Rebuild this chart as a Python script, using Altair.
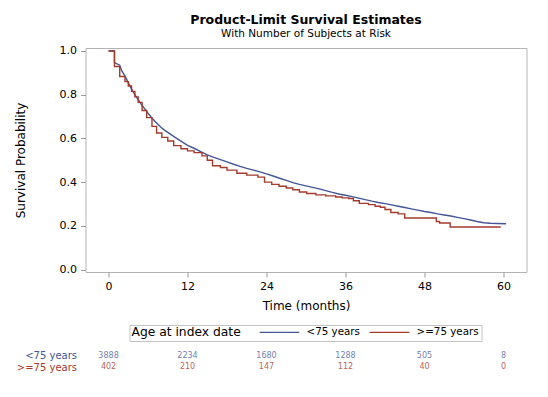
import altair as alt
import pandas as pd

groups = ["<75 years", ">=75 years"]
line_colors = ["#445694", "#A23A2E"]
num_colors = ["#7480b0", "#b8665c"]

time_lt75 = [0, 0.9, 0.9, 1.7, 2.0, 2.5, 3.0, 3.5, 4.0, 4.5, 5.0, 5.5, 6.0, 6.5, 7.0, 7.5, 8.0, 8.5, 9.0,
             10, 11, 12, 13, 14, 15, 16, 17, 18, 19, 20, 21, 22, 23, 24, 25, 26, 27, 28, 29, 30,
             31, 32, 33, 34, 35, 36, 37, 38, 39, 40, 41, 42, 43, 44, 45, 46, 47, 48, 49, 50,
             51, 52, 53, 54, 55, 56, 57, 58, 59, 60.4]
surv_lt75 = [1.0, 1.0, 0.947, 0.935, 0.91, 0.885, 0.855, 0.825, 0.80, 0.777, 0.755, 0.735, 0.715, 0.697,
             0.68, 0.665, 0.65, 0.638, 0.628, 0.607, 0.588, 0.568, 0.555, 0.54, 0.525, 0.513,
             0.503, 0.493, 0.482, 0.472, 0.463, 0.455, 0.447, 0.438, 0.428, 0.418, 0.408, 0.398,
             0.39, 0.383, 0.376, 0.369, 0.361, 0.353, 0.346, 0.34, 0.334, 0.327, 0.32, 0.313,
             0.307, 0.302, 0.296, 0.29, 0.284, 0.278, 0.272, 0.266, 0.261, 0.255, 0.25, 0.245,
             0.239, 0.233, 0.227, 0.22, 0.214, 0.212, 0.211, 0.21]

time_ge75 = [0, 0.9, 1.7, 2.5, 3.0, 3.5, 4.0, 4.5, 5.1, 5.8, 6.6, 7.3, 8.1, 9.0, 9.9, 11.0, 12.0, 13.0, 14.2,
             15.0, 15.8, 17.0, 18.0, 19.5, 21.0, 22.7, 23.7, 24.8, 25.9, 27.0, 28.0, 29.0, 30.1,
             31.5, 33.0, 34.5, 35.5, 36.5, 37.2, 38.1, 39.5, 40.5, 41.3, 42.0, 42.9, 44.0, 45.0,
             49.8, 50.3, 51.9, 59.6]
surv_ge75 = [1.0, 0.929, 0.883, 0.86, 0.84, 0.815, 0.79, 0.765, 0.728, 0.695, 0.655, 0.625, 0.605, 0.588, 0.567,
             0.553, 0.543, 0.535, 0.52, 0.5, 0.475, 0.467, 0.455, 0.441, 0.432, 0.423, 0.40,
             0.39, 0.381, 0.373, 0.365, 0.355, 0.348, 0.342, 0.337, 0.332, 0.328, 0.325, 0.315,
             0.303, 0.297, 0.29, 0.285, 0.275, 0.261, 0.255, 0.236, 0.22, 0.213, 0.195, 0.195]

risk_times = [0, 12, 24, 36, 48, 60]
risk_lt75 = [3888, 2234, 1680, 1288, 505, 8]
risk_ge75 = [402, 210, 147, 112, 40, 0]

FONT = "DejaVu Sans"

curve_df = pd.concat([
    pd.DataFrame({"time": time_lt75, "surv": surv_lt75, "group": groups[0],
                  "idx": range(len(time_lt75))}),
    pd.DataFrame({"time": time_ge75, "surv": surv_ge75, "group": groups[1],
                  "idx": range(len(time_ge75))}),
])

risk_df = pd.concat([
    pd.DataFrame({"time": risk_times, "n": risk_lt75, "row": groups[0], "tc": num_colors[0]}),
    pd.DataFrame({"time": risk_times, "n": risk_ge75, "row": groups[1], "tc": num_colors[1]}),
])

xscale = alt.Scale(domain=[-3.5, 63.5], nice=False, zero=False)
yscale = alt.Scale(domain=[-0.011, 1.0136], nice=False, zero=False)

x_enc = alt.X("time:Q", scale=xscale,
              axis=alt.Axis(values=risk_times, title="Time (months)", grid=False, domain=False,
                            tickSize=5, tickColor="#9a9a9a", labelPadding=3, labelFontSize=11,
                            labelColor="#000", titleFontSize=12, titleFontWeight="normal",
                            titleColor="#000", titlePadding=9, labelFont=FONT, titleFont=FONT))
y_enc = alt.Y("surv:Q", scale=yscale,
              axis=alt.Axis(values=[0, 0.2, 0.4, 0.6, 0.8, 1.0], format=".1f",
                            title="Survival Probability", grid=False, domain=False,
                            tickSize=5, tickColor="#9a9a9a", labelPadding=4, labelFontSize=11,
                            labelColor="#000", titleFontSize=12, titleFontWeight="normal",
                            titleColor="#000", titlePadding=32, labelFont=FONT, titleFont=FONT))
color_enc = alt.Color("group:N", scale=alt.Scale(domain=groups, range=line_colors),
                      legend=alt.Legend(title="Age at index date", orient="none", legendX=44,
                                        legendY=277, direction="horizontal", titleOrient="left",
                                        symbolType="M-5.2,0H5.2", symbolSize=58,
                                        symbolStrokeWidth=1.1, symbolOffset=15.8,
                                        strokeColor="#c4c4c4", padding=2, labelFontSize=10.3,
                                        titleFontSize=12.3, titleFontWeight="normal",
                                        titleColor="#000", labelColor="#000", titlePadding=17,
                                        columnPadding=6, labelOffset=22, labelFont=FONT,
                                        titleFont=FONT, titleBaseline="middle"))

base = alt.Chart(curve_df).encode(x=x_enc, y=y_enc, color=color_enc, order=alt.Order("idx:Q"))

blue = base.transform_filter(alt.datum.group == groups[0]).mark_line(strokeWidth=1.4)
red = base.transform_filter(alt.datum.group == groups[1]).mark_line(
    interpolate="step-after", strokeWidth=1.4)

main = alt.layer(blue, red).properties(
    width=441, height=224,
    title=alt.TitleParams(text="Product-Limit Survival Estimates",
                          subtitle="With Number of Subjects at Risk",
                          font=FONT, subtitleFont=FONT, fontSize=12.5, subtitleFontSize=10.5,
                          fontWeight="bold", color="#000", subtitleColor="#000",
                          anchor="middle", frame="group", offset=5, subtitlePadding=3),
)

risk = alt.Chart(risk_df).mark_text(fontSize=8, font=FONT).encode(
    x=alt.X("time:Q", scale=xscale, axis=None),
    y=alt.Y("row:N", scale=alt.Scale(domain=groups),
            axis=alt.Axis(title=None, domain=False, ticks=False, labelFontSize=10,
                          labelFont=FONT, labelPadding=9,
                          labelColor={"expr": "datum.value == '<75 years' ? '#445694' : '#A23A2E'"})),
    text="n:Q",
    color=alt.Color("tc:N", scale=None),
).properties(width=441, height=alt.Step(11.5), view=alt.ViewBackground(strokeOpacity=0))

chart = alt.vconcat(main, risk, spacing=8).resolve_scale(
    color="independent"
).resolve_legend(color="independent").properties(
    padding={"left": 5.5, "top": 5, "right": 5, "bottom": 5}
).configure_view(stroke="#b4b4b4")

chart.save("out.html", embed_options={"renderer": "svg", "actions": False})
